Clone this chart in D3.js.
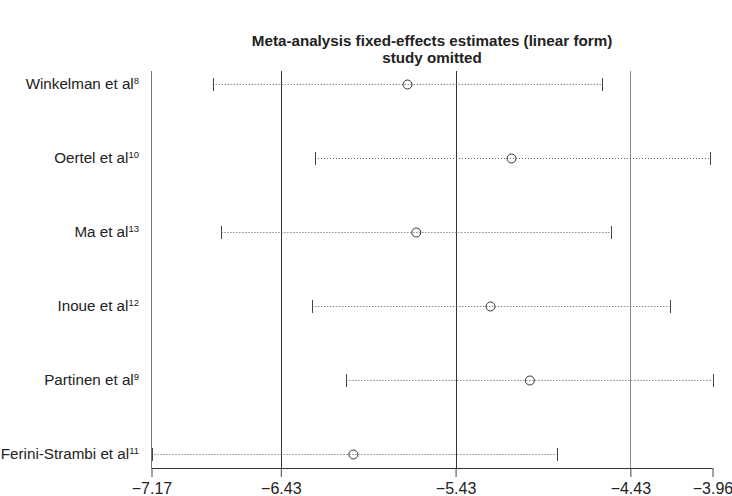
<!DOCTYPE html>
<head>
  <meta charset="utf-8">
  <title>Study omitted</title>
  <script src="https://d3js.org/d3.v7.min.js"></script>
  <style>
    body { margin:0; background:#fff; }
    svg { display:block; font-family: "Liberation Sans", Arial, sans-serif; }
  </style>
</head>
<body>
  <svg width="732" height="496"></svg>
  <script>
    var studies = ['Winkelman et al', 'Oertel et al', 'Ma et al', 'Inoue et al', 'Partinen et al', 'Ferini-Strambi et al'];
    var refs = ['8', '10', '13', '12', '9', '11'];
    var lower = [-6.82, -6.235, -6.77, -6.25, -6.055, -7.17];
    var estimate = [-5.705, -5.11, -5.655, -5.23, -5.005, -6.015];
    var upper = [-4.59, -3.975, -4.54, -4.205, -3.96, -4.85];
    var tickVals = [-7.17, -6.43, -5.43, -4.43, -3.96];
    var refLines = [-6.43, -5.43, -4.43];

    var svg = d3.select('svg');
    var plotTop = 71, axisY = 468;

    var x = d3.scaleLinear().domain([-7.17, -3.96]).range([151.5, 712.5]);
    var y = d3.scalePoint().domain(studies).range([84, 454]);

    // title
    var title = svg.append('text')
      .attr('text-anchor', 'middle')
      .attr('font-weight', 'bold')
      .attr('font-size', 15.2)
      .attr('fill', '#222');
    title.append('tspan').attr('x', 432).attr('y', 46).text('Meta-analysis fixed-effects estimates (linear form)');
    title.append('tspan').attr('x', 432).attr('y', 63).text('study omitted');

    // reference lines
    svg.selectAll('.ref').data(refLines).enter().append('line')
      .attr('x1', d => Math.round(x(d)) + 0.5).attr('x2', d => Math.round(x(d)) + 0.5)
      .attr('y1', plotTop).attr('y2', axisY)
      .attr('stroke', (d, i) => i == 2 ? '#888' : '#333');

    // left axis line
    svg.append('line')
      .attr('x1', 151.5).attr('x2', 151.5).attr('y1', plotTop).attr('y2', axisY)
      .attr('stroke', '#777');

    // x axis
    var ax = svg.append('g').attr('transform', 'translate(0,' + axisY + ')')
      .call(d3.axisBottom(x).tickValues(tickVals).tickSize(9).tickPadding(6)
        .tickFormat(d => d3.format('.2f')(d).replace('-', '\u2212')));
    ax.select('.domain').attr('stroke', '#333').attr('d', 'M151.5,0.5H712.5');
    ax.selectAll('.tick line').attr('stroke', '#444');
    ax.selectAll('.tick text').attr('font-size', 16).attr('fill', '#222').attr('font-family', '"Liberation Sans", Arial, sans-serif');

    // study labels
    var lab = svg.selectAll('.lab').data(studies).enter().append('text')
      .attr('x', 139).attr('y', d => y(d) + 5)
      .attr('text-anchor', 'end')
      .attr('font-size', 15.2)
      .attr('fill', '#222');
    lab.append('tspan').text(d => d);
    lab.append('tspan').attr('dy', -5).attr('font-size', 9.5).text((d, i) => refs[i]);

    var rows = svg.selectAll('.row').data(studies).enter().append('g');

    rows.append('line')
      .attr('x1', (d, i) => x(lower[i])).attr('x2', (d, i) => x(upper[i]))
      .attr('y1', d => y(d) + 0.5).attr('y2', d => y(d) + 0.5)
      .attr('stroke', '#555').attr('stroke-dasharray', '1,2');

    rows.selectAll('.cap').data((d, i) => [lower[i], upper[i]].map(v => ({v: v, s: d})))
      .enter().append('line')
      .attr('x1', c => Math.round(x(c.v)) + 0.5).attr('x2', c => Math.round(x(c.v)) + 0.5)
      .attr('y1', c => y(c.s) - 6).attr('y2', c => y(c.s) + 7)
      .attr('stroke', '#444');

    rows.append('circle')
      .attr('cx', (d, i) => x(estimate[i])).attr('cy', d => y(d) + 0.5)
      .attr('r', 4.5)
      .attr('fill', 'none').attr('stroke', '#333');
  </script>
</body>
